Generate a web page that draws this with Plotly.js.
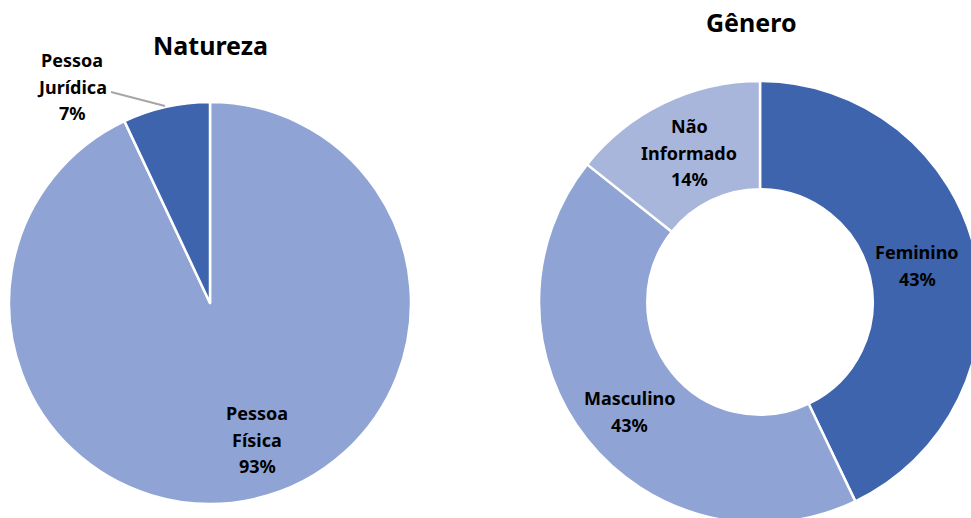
<!DOCTYPE html>
<html>
<head>
<meta charset="utf-8">
<script src="https://cdn.plot.ly/plotly-3.0.1.min.js"></script>
<style>
html,body{margin:0;padding:0;overflow:hidden;background:#fff;}
#chart{width:1000px;height:540px;}
</style>
</head>
<body>
<div id="chart"></div>
<script>
// ---- data ----
const natLabels = ["Pessoa Física", "Pessoa Jurídica"];
const natValues = [93, 7];
const natColors = ["#8fa4d4", "#3d64ad"];

const genLabels = ["Feminino", "Masculino", "Não Informado"];
const genValues = [42.9, 42.8, 14.3];
const genColors = ["#3d64ad", "#8fa4d4", "#a8b6dc"];

const titles = ["Natureza", "Gênero"];

// ---- layout helpers ----
const W = 1000, H = 540;
const px = x => x / W;
const py = y => (H - y) / H;

const FONT = "Noto Sans, Open Sans, sans-serif";

const traces = [
  {
    type: "pie", labels: natLabels, values: natValues, sort: false,
    direction: "clockwise", rotation: 0,
    marker: {colors: natColors, line: {color: "#ffffff", width: 2.5}},
    textinfo: "none", hoverinfo: "label+percent",
    domain: {x: [px(9), px(411)], y: [py(504), py(102)]}
  },
  {
    type: "pie", labels: genLabels, values: genValues, sort: false,
    direction: "clockwise", rotation: 0, hole: 0.51,
    marker: {colors: genColors, line: {color: "#ffffff", width: 2.5}},
    textinfo: "none", hoverinfo: "label+percent",
    domain: {x: [px(539), px(981)], y: [py(523), py(81)]}
  }
];

// label block positions (centre x, first-line y) in page pixels
const natLabelPos = [[257, 413], [72, 60]];
const genLabelPos = [[917, 252], [629, 398], [689, 126]];
const LINE_GAP = 26.5;

const annotations = [];
function addLabel(name, value, total, pos) {
  const words = name.split(" ");
  const lines = words.concat([Math.round(value / total * 100) + "%"]);
  lines.forEach((t, i) => {
    annotations.push({
      text: "<b>" + t + "</b>", showarrow: false,
      xref: "paper", yref: "paper",
      x: px(pos[0]), y: py(pos[1] + i * LINE_GAP),
      xanchor: "center", yanchor: "middle",
      font: {family: FONT, size: 18, color: "#000000"}
    });
  });
}
const natTotal = natValues.reduce((a, b) => a + b, 0);
const genTotal = genValues.reduce((a, b) => a + b, 0);
natLabels.forEach((l, i) => addLabel(l, natValues[i], natTotal, natLabelPos[i]));
genLabels.forEach((l, i) => addLabel(l, genValues[i], genTotal, genLabelPos[i]));

// chart titles
const titlePos = [[210, 45], [751, 22]];
titles.forEach((t, i) => {
  annotations.push({
    text: "<b>" + t + "</b>", showarrow: false,
    xref: "paper", yref: "paper",
    x: px(titlePos[i][0]), y: py(titlePos[i][1]),
    xanchor: "center", yanchor: "middle",
    font: {family: FONT, size: 25, color: "#000000"}
  });
});

const layout = {
  width: W, height: H,
  margin: {l: 0, r: 0, t: 0, b: 0},
  paper_bgcolor: "#ffffff",
  showlegend: false,
  annotations: annotations,
  shapes: [{
    type: "line", xref: "paper", yref: "paper",
    x0: px(111), y0: py(92), x1: px(165), y1: py(106),
    line: {color: "#a6a6a6", width: 2}
  }]
};

Plotly.newPlot("chart", traces, layout, {staticPlot: true, displayModeBar: false});
</script>
</body>
</html>
